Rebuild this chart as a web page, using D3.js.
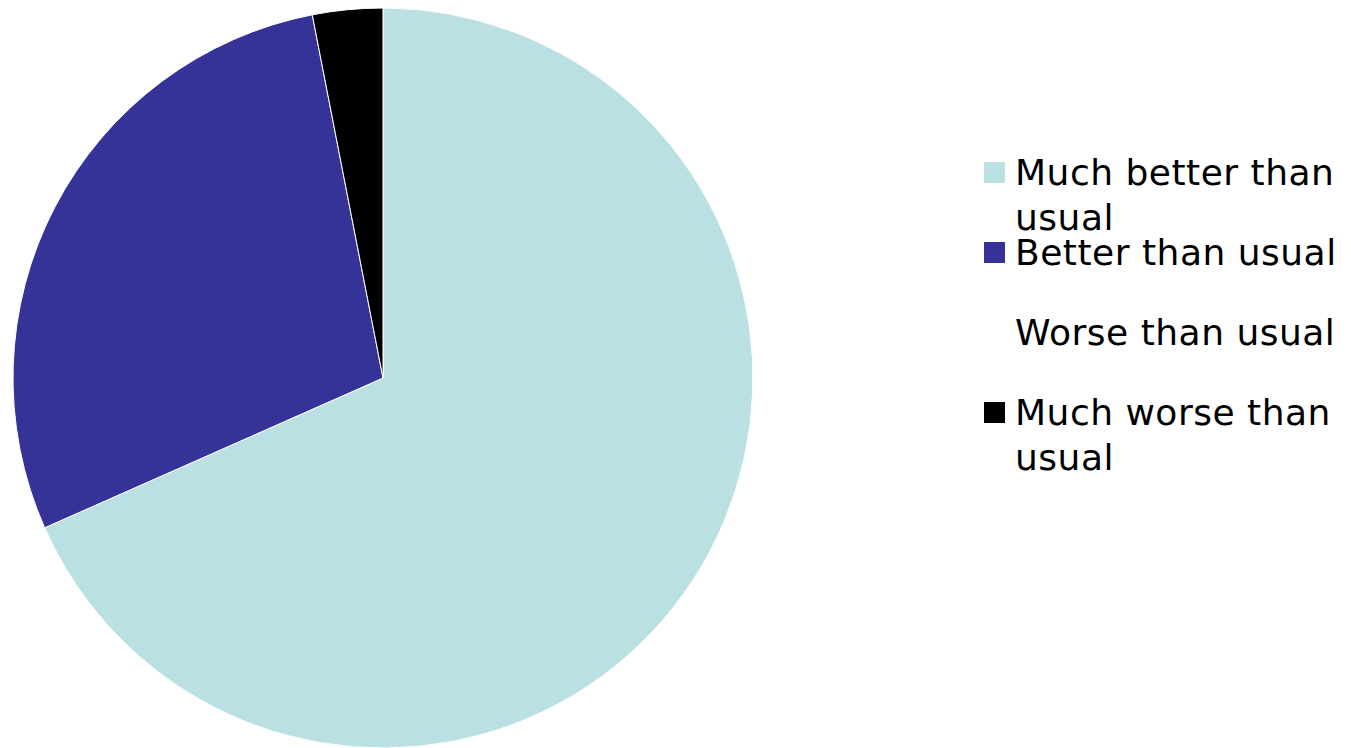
<!DOCTYPE html>
<html>
<head>
<meta charset="utf-8">
<script src="https://cdn.jsdelivr.net/npm/d3@7"></script>
<style>
  html, body { margin: 0; padding: 0; background: #fff; }
  svg { display: block; }
</style>
</head>
<body>
<div id="chart"></div>
<script>
// Chart data
const categories = ["Much better than usual", "Better than usual", "Worse than usual", "Much worse than usual"];
const counts = [67, 28, 0, 3];
const colours = ["#bae0e3", "#353398", "#ffffff", "#000000"];

const width = 1351, height = 748;
const cx = 383, cy = 378, radius = 370;

const svg = d3.select("#chart")
    .append("svg")
    .attr("width", width)
    .attr("height", height);

// Pie
const pie = d3.pie().sort(null).value(d => d.value);
const arc = d3.arc().innerRadius(0).outerRadius(radius);

const slices = categories.map((c, i) => ({ name: c, value: counts[i], colour: colours[i] }));

svg.append("g")
    .attr("transform", `translate(${cx},${cy})`)
    .selectAll("path")
    .data(pie(slices).filter(d => d.data.value > 0))
    .enter()
    .append("path")
    .attr("d", arc)
    .attr("fill", d => d.data.colour)
    .attr("stroke", "#fff")
    .attr("stroke-width", 1);

// Legend
const legendX = 984, legendY = 185, itemStep = 80, lineStep = 45, maxWidth = 340;

const legend = svg.append("g")
    .style("font-family", "'DejaVu Sans', Verdana, sans-serif")
    .style("font-size", "36px")
    .style("letter-spacing", "0.5px");

slices.forEach((d, i) => {
    const y = legendY + i * itemStep;
    legend.append("rect")
        .attr("x", legendX)
        .attr("y", y - 23)
        .attr("width", 21)
        .attr("height", 21)
        .attr("fill", d.colour);

    const text = legend.append("text")
        .attr("x", legendX + 31)
        .attr("y", y)
        .attr("fill", "#000");

    // wrap words onto lines
    const words = d.name.split(" ");
    let line = [];
    let tspan = text.append("tspan").attr("x", legendX + 31).attr("dy", 0);
    words.forEach(w => {
        line.push(w);
        tspan.text(line.join(" "));
        if (tspan.node().getComputedTextLength() > maxWidth && line.length > 1) {
            line.pop();
            tspan.text(line.join(" "));
            line = [w];
            tspan = text.append("tspan").attr("x", legendX + 31).attr("dy", lineStep).text(w);
        }
    });
});
</script>
</body>
</html>
